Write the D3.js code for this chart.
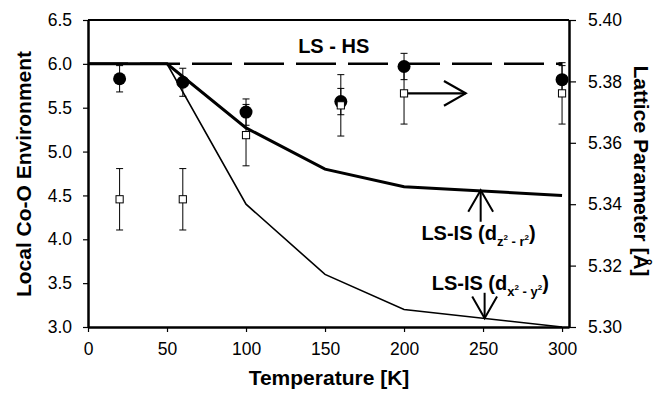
<!DOCTYPE html>
<html><head><meta charset="utf-8">
<script src="https://cdn.jsdelivr.net/npm/d3@7"></script>
<style>body{margin:0;background:#fff}svg{display:block}text{font-family:"Liberation Sans",Arial,sans-serif;fill:#000}</style>
</head><body><svg id="c" width="669" height="395"></svg>
<script>
// ---- data ----
const temps = [20, 60, 100, 160, 200, 300];
const coEnv = [5.83, 5.79, 5.45, 5.57, 5.97, 5.82];          // filled circles (left axis)
const coEnvErr = [0.15, 0.16, 0.15, 0.15, 0.15, 0.16];
const lattice = [5.3416, 5.3416, 5.3625, 5.3722, 5.3761, 5.3761]; // open squares (right axis)
const latticeErr = [0.010, 0.010, 0.010, 0.010, 0.010, 0.010];
const modelT = [0, 50, 100, 150, 200, 300];
const lsHS = [6.0, 6.0, 6.0, 6.0, 6.0, 6.0];
const lsISz = [6.0, 6.0, 5.27, 4.8, 4.6, 4.5];
const lsISx = [6.0, 6.0, 4.4, 3.6, 3.2, 3.0];
const xTicks = [0, 50, 100, 150, 200, 250, 300];
const yLeftTicks = [3.0, 3.5, 4.0, 4.5, 5.0, 5.5, 6.0, 6.5];
const yRightTicks = [5.30, 5.32, 5.34, 5.36, 5.38, 5.40];

const svg = d3.select("#c");
const L = 88, R = 569, T = 20, B = 327;
const x = d3.scaleLinear().domain([0, 304.4]).range([L, R]);
const yL = d3.scaleLinear().domain([3, 6.5]).range([B, T]);
const yR = d3.scaleLinear().domain([5.30, 5.40]).range([B, T]);
const FONT = '"Liberation Sans",Arial,sans-serif';

// frame top
svg.append("line").attr("x1", L).attr("x2", R).attr("y1", T).attr("y2", T).attr("stroke", "#000").attr("stroke-width", 2);

// axes
const gx = svg.append("g").attr("transform", `translate(0,${B})`)
  .call(d3.axisBottom(x).tickValues(xTicks).tickFormat(d3.format("d")).tickSize(5).tickSizeOuter(0));
const gl = svg.append("g").attr("transform", `translate(${L},0)`)
  .call(d3.axisLeft(yL).tickValues(yLeftTicks).tickFormat(d3.format(".1f")).tickSize(5).tickSizeOuter(0));
const gr = svg.append("g").attr("transform", `translate(${R},0)`)
  .call(d3.axisRight(yR).tickValues(yRightTicks).tickFormat(d3.format(".2f")).tickSize(7).tickSizeOuter(0));
[gx, gl, gr].forEach(g => {
  g.select(".domain").attr("stroke-width", 2.5);
  g.selectAll(".tick line").attr("stroke-width", 1.2);
  g.selectAll("text").attr("font-size", 17.5).attr("font-family", FONT).attr("fill", "#000");
});
gx.selectAll(".tick text").attr("dy", null).attr("y", 28);
gl.selectAll(".tick text").attr("x", -16);
gr.selectAll(".tick text").attr("x", 19);

// model lines
const line = d3.line().x((d, i) => x(modelT[i])).y(d => yL(d));
svg.append("path").datum(lsHS).attr("d", line).attr("fill", "none").attr("stroke", "#000")
  .attr("stroke-width", 2.5).attr("stroke-dasharray", "40,12");
svg.append("path").datum(lsISx).attr("d", line).attr("fill", "none").attr("stroke", "#000").attr("stroke-width", 1.6);
svg.append("path").datum(lsISz).attr("d", line).attr("fill", "none").attr("stroke", "#000").attr("stroke-width", 3);

// error bars helper
function errBars(vals, errs, scale) {
  const g = svg.append("g").attr("stroke", "#000").attr("stroke-width", 1);
  temps.forEach((t, i) => {
    const cx = x(t), y1 = scale(vals[i] - errs[i]), y2 = scale(vals[i] + errs[i]);
    g.append("line").attr("x1", cx).attr("x2", cx).attr("y1", y1).attr("y2", y2);
    g.append("line").attr("x1", cx - 3.5).attr("x2", cx + 3.5).attr("y1", y1).attr("y2", y1);
    g.append("line").attr("x1", cx - 3.5).attr("x2", cx + 3.5).attr("y1", y2).attr("y2", y2);
  });
}
errBars(coEnv, coEnvErr, yL);
svg.append("g").selectAll("circle").data(coEnv).join("circle")
  .attr("cx", (d, i) => x(temps[i])).attr("cy", d => yL(d)).attr("r", 6.5).attr("fill", "#000");
errBars(lattice, latticeErr, yR);
svg.append("g").selectAll("rect").data(lattice).join("rect")
  .attr("x", (d, i) => x(temps[i]) - 3.6).attr("y", d => yR(d) - 3.6).attr("width", 7.2).attr("height", 7.2)
  .attr("fill", "#fff").attr("stroke", "#000").attr("stroke-width", 1);

// arrows
function arrow(x1, y1, x2, y2, w) {
  const g = svg.append("g").attr("stroke", "#000").attr("stroke-width", w).attr("fill", "none");
  g.append("line").attr("x1", x1).attr("y1", y1).attr("x2", x2).attr("y2", y2);
  const a = Math.atan2(y2 - y1, x2 - x1), len = 25, sp = 0.52;
  g.append("path").attr("d", `M${x2 - len * Math.cos(a - sp)},${y2 - len * Math.sin(a - sp)}L${x2},${y2}L${x2 - len * Math.cos(a + sp)},${y2 - len * Math.sin(a + sp)}`);
}
// lattice arrow from 200 K square to right
arrow(x(200) + 4, yR(lattice[4]), x(239), yR(lattice[4]), 2.2);
// LS-IS annotation arrows
arrow(x(248.5), yL(4.2), x(248.5), yL(4.56), 2);
arrow(x(251), yL(3.39), x(251), yL(3.1), 2);

// annotations
svg.append("text").attr("x", x(155.5)).attr("y", yL(6.12)).attr("text-anchor", "middle")
  .attr("font-size", 20).attr("font-weight", "bold").text("LS - HS");
function lsis(tx, ty, a, b) {
  const t = svg.append("text").attr("x", x(tx)).attr("y", yL(ty)).attr("font-size", 20).attr("font-weight", "bold");
  t.append("tspan").text("LS-IS (d");
  t.append("tspan").attr("font-size", 13).attr("dy", 6).text(a);
  t.append("tspan").attr("font-size", 8).attr("dy", -6).text("2");
  t.append("tspan").attr("font-size", 13).attr("dy", 6).text(" - " + b);
  t.append("tspan").attr("font-size", 8).attr("dy", -6).text("2");
  t.append("tspan").attr("dy", 0).text(")");
}
lsis(211, 3.99, "z", "r");
lsis(217.5, 3.42, "x", "y");

// axis titles
svg.append("text").attr("transform", `translate(31,174) rotate(-90)`).attr("text-anchor", "middle")
  .attr("font-size", 21).attr("font-weight", "bold").text("Local Co-O Environment");
svg.append("text").attr("transform", `translate(634,171) rotate(90)`).attr("text-anchor", "middle")
  .attr("font-size", 21).attr("font-weight", "bold").text("Lattice Parameter [Å]");
svg.append("text").attr("x", 329).attr("y", 385).attr("text-anchor", "middle")
  .attr("font-size", 21).attr("font-weight", "bold").text("Temperature [K]");
</script></body></html>
